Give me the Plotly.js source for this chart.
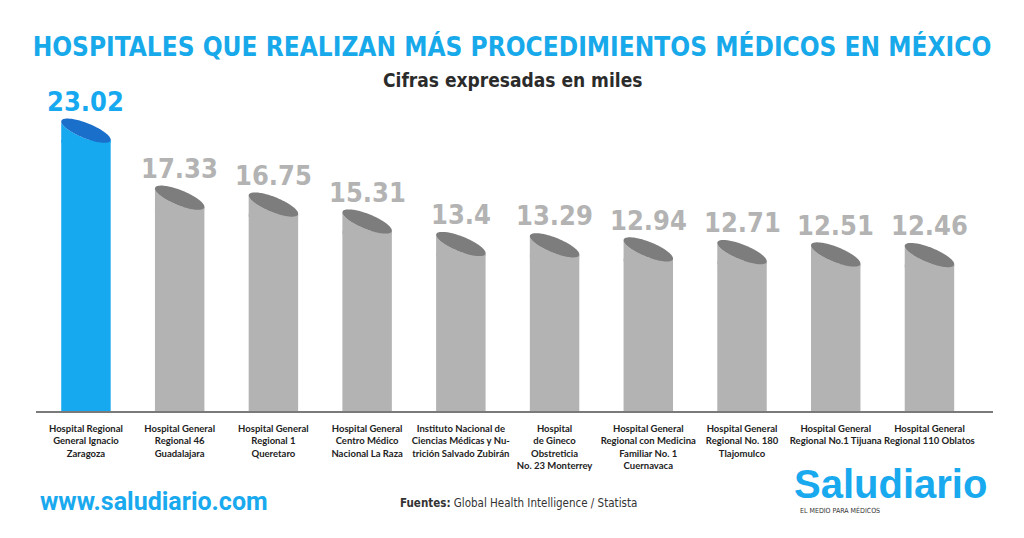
<!DOCTYPE html>
<html>
<head>
<meta charset="utf-8">
<script src="https://cdn.plot.ly/plotly-3.0.1.min.js"></script>
<style>
html,body{margin:0;padding:0;background:#fff;}
#chart{width:1024px;height:538px;}
</style>
</head>
<body>
<div id="chart"></div>
<script>
// ---- DATA ----
var hospitals = [
  "Hospital Regional<br>General Ignacio<br>Zaragoza",
  "Hospital General<br>Regional 46<br>Guadalajara",
  "Hospital General<br>Regional 1<br>Queretaro",
  "Hospital General<br>Centro Médico<br>Nacional La Raza",
  "Instituto Nacional de<br>Ciencias Médicas y Nu-<br>trición Salvado Zubirán",
  "Hospital<br>de Gineco<br>Obstreticia<br>No. 23 Monterrey",
  "Hospital General<br>Regional con Medicina<br>Familiar No. 1<br>Cuernavaca",
  "Hospital General<br>Regional No. 180<br>Tlajomulco",
  "Hospital General<br>Regional No.1 Tijuana",
  "Hospital General<br>Regional 110 Oblatos"
];
var procedimientos = [23.02, 17.33, 16.75, 15.31, 13.4, 13.29, 12.94, 12.71, 12.51, 12.46];
var valueLabels = ["23.02", "17.33", "16.75", "15.31", "13.4", "13.29", "12.94", "12.71", "12.51", "12.46"];

// ---- STYLE ----
var W = 1024, H = 538;
var M = {l: 36, r: 31, t: 100, b: 127};
var BLUE = "#17a9f0", BLUE_TOP = "#1a6fca";
var GRAY = "#b3b3b3", GRAY_TOP = "#7d7d7d";
var idx = procedimientos.map(function(_, i){ return i; });
var bodyColors = idx.map(function(i){ return i === 0 ? BLUE : GRAY; });
var topColors = idx.map(function(i){ return i === 0 ? BLUE_TOP : GRAY_TOP; });

function px2paperX(x){ return (x - M.l) / (W - M.l - M.r); }
function px2paperY(y){ return (H - M.b - y) / (H - M.t - M.b); }

// tilted ellipse geometry (pixel offsets, y up); rightmost point sits at y = 0
var EA = 26.5, EB = 7.5, ETH = -22 * Math.PI / 180, NPT = 120;
var pts = [];
for (var k = 0; k < NPT; k++){
  var t = 2 * Math.PI * k / NPT;
  pts.push([EA * Math.cos(t) * Math.cos(ETH) - EB * Math.sin(t) * Math.sin(ETH),
            EA * Math.cos(t) * Math.sin(ETH) + EB * Math.sin(t) * Math.cos(ETH)]);
}
var iL = 0, iR = 0;
pts.forEach(function(p, k){ if (p[0] < pts[iL][0]) iL = k; if (p[0] > pts[iR][0]) iR = k; });
var yShift = -pts[iR][1];
pts = pts.map(function(p){ return [p[0], p[1] + yShift]; });
var halfW = pts[iR][0];
function fmt(p){ return p[0].toFixed(2) + "," + p[1].toFixed(2); }
var capPath = pts.map(function(p, k){ return (k === 0 ? "M" : "L") + fmt(p); }).join("") + "Z";
// lower arc from leftmost to rightmost (through bottom)
var lower = [];
for (var j = iL; ; j = (j + 1) % NPT){ lower.push(pts[j]); if (j === iR) break; }
var skirtPath = "M" + fmt([-halfW, -3]) + lower.map(function(p){ return "L" + fmt(p); }).join("") +
  "L" + fmt([halfW, -3]) + "Z";

var shapes = [];
idx.forEach(function(i){
  shapes.push({type: "path", xref: "x", yref: "y", xsizemode: "pixel", ysizemode: "pixel",
    xanchor: i, yanchor: procedimientos[i], path: skirtPath,
    fillcolor: bodyColors[i], line: {width: 0}, layer: "above"});
});
idx.forEach(function(i){
  shapes.push({type: "path", xref: "x", yref: "y", xsizemode: "pixel", ysizemode: "pixel",
    xanchor: i, yanchor: procedimientos[i], path: capPath,
    fillcolor: topColors[i], line: {width: 0}, layer: "above"});
});

var annotations = idx.map(function(i){
  return {
    x: i, y: procedimientos[i], xref: "x", yref: "y",
    text: valueLabels[i], showarrow: false, yanchor: "bottom", yshift: 21,
    font: {family: "DejaVu Sans Condensed", size: 27, weight: "bold",
           color: i === 0 ? BLUE : GRAY}
  };
});

annotations.push({
  xref: "paper", yref: "paper", x: px2paperX(512), y: px2paperY(80),
  text: "Cifras expresadas en miles", showarrow: false, xanchor: "center", yanchor: "middle",
  font: {family: "DejaVu Sans Condensed", size: 19, weight: "bold", color: "#2b2b2b"}
});
annotations.push({
  xref: "paper", yref: "paper", x: px2paperX(38), y: px2paperY(501),
  text: "www.saludiario.com", showarrow: false, xanchor: "left", yanchor: "middle",
  font: {family: "Roboto", size: 25, weight: "bold", color: "#19a9ee"}
});
annotations.push({
  xref: "paper", yref: "paper", x: px2paperX(398), y: px2paperY(503),
  text: "<b>Fuentes:</b> Global Health Intelligence / Statista", showarrow: false,
  xanchor: "left", yanchor: "middle",
  font: {family: "DejaVu Sans Condensed", size: 11.5, color: "#333333"}
});
annotations.push({
  xref: "paper", yref: "paper", x: px2paperX(792), y: px2paperY(484),
  text: "Saludiario", showarrow: false, xanchor: "left", yanchor: "middle",
  font: {family: "Liberation Sans", size: 40, weight: "bold", color: "#19a9ee"}
});
annotations.push({
  xref: "paper", yref: "paper", x: px2paperX(798), y: px2paperY(510),
  text: "EL MEDIO PARA MÉDICOS", showarrow: false, xanchor: "left", yanchor: "middle",
  font: {family: "DejaVu Sans Condensed", size: 7, color: "#333333"}
});

var trace = {
  type: "bar",
  x: idx,
  y: procedimientos,
  width: 2 * halfW / 93.72,
  marker: {color: bodyColors, line: {width: 0}},
  hoverinfo: "skip"
};

var layout = {
  width: W, height: H,
  margin: M,
  paper_bgcolor: "#ffffff", plot_bgcolor: "#ffffff",
  showlegend: false,
  title: {
    text: "HOSPITALES QUE REALIZAN MÁS PROCEDIMIENTOS MÉDICOS EN MÉXICO",
    x: 0.5, xanchor: "center", y: 1 - 47 / H, yanchor: "middle", yref: "container",
    font: {family: "DejaVu Sans Condensed", size: 26, weight: "bold", color: "#17a9ea"}
  },
  xaxis: {
    range: [-0.533, 9.678],
    tickvals: idx, ticktext: hospitals, tickangle: 0,
    showline: true, linecolor: "#7a7a7a", linewidth: 1.5,
    showgrid: false, zeroline: false, ticks: "", ticklabelstandoff: 8,
    tickfont: {family: "Lato", size: 9.5, weight: "bold", color: "#222222"},
    fixedrange: true
  },
  yaxis: {
    range: [0, 26.4], visible: false, fixedrange: true
  },
  shapes: shapes,
  annotations: annotations
};

Plotly.newPlot("chart", [trace], layout, {displayModeBar: false, staticPlot: true});
</script>
</body>
</html>
